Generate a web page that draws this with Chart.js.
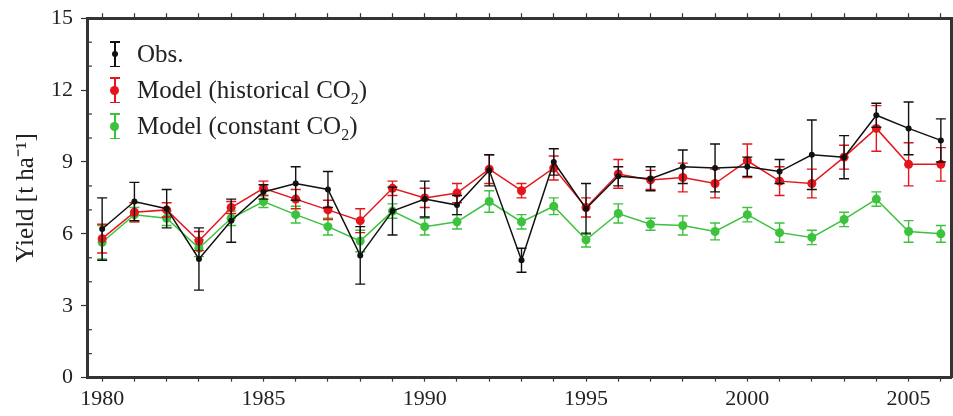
<!DOCTYPE html>
<html>
<head>
<meta charset="utf-8">
<script src="https://cdn.jsdelivr.net/npm/chart.js@4.4.1/dist/chart.umd.min.js"></script>
<style>
  html, body { margin: 0; padding: 0; background: #fff; }
  #wrap { position: relative; width: 953px; height: 416px; overflow: hidden; }
  #chart { position: absolute; left: 0; top: -3px; }
  #legend {
    position: absolute; left: 104px; top: 36px;
    font-family: "Liberation Serif", "Times New Roman", serif;
    font-size: 25px; color: #222; line-height: 36px;
  }
  .row { display: flex; align-items: center; height: 36px; }
  .icon { position: relative; width: 22px; height: 26px; margin-right: 11px; }
  .icon .bar { position: absolute; left: 10px; top: 0; width: 1.5px; height: 26px; }
  .icon .cap { position: absolute; left: 6px; width: 10px; height: 1.5px; }
  .icon .cap.t { top: 0; }
  .icon .cap.b { bottom: 0; }
  .icon .dot { position: absolute; border-radius: 50%; }
  sub { font-size: 16px; vertical-align: -6px; line-height: 0; }
</style>
</head>
<body>
<div id="wrap">
  <canvas id="chart" width="956" height="419"></canvas>
  <div id="legend"></div>
</div>
<script>
// data
const years = [1980, 1981, 1982, 1983, 1984, 1985, 1986, 1987, 1988, 1989, 1990, 1991, 1992, 1993,
  1994, 1995, 1996, 1997, 1998, 1999, 2000, 2001, 2002, 2003, 2004, 2005, 2006];

const obsYield = [6.2, 7.35, 7.05, 4.95, 6.55, 7.75, 8.1, 7.85, 5.1, 6.95, 7.45, 7.2, 8.65, 4.9,
  9.0, 7.05, 8.4, 8.3, 8.8, 8.75, 8.8, 8.6, 9.3, 9.2, 10.95, 10.4, 9.9];
const obsErr = [1.3, 0.8, 0.8, 1.3, 0.9, 0.3, 0.7, 0.75, 1.2, 1.0, 0.75, 0.4, 0.65, 0.5,
  0.55, 1.05, 0.4, 0.5, 0.7, 1.0, 0.4, 0.5, 1.45, 0.9, 0.5, 1.1, 0.9];

const histYield = [5.8, 6.9, 7.0, 5.7, 7.1, 7.9, 7.45, 7.0, 6.55, 7.9, 7.5, 7.7, 8.7, 7.8,
  8.75, 7.1, 8.5, 8.25, 8.35, 8.1, 9.05, 8.2, 8.1, 9.2, 10.4, 8.9, 8.9];
const histErr = [0.6, 0.4, 0.3, 0.4, 0.25, 0.3, 0.4, 0.4, 0.5, 0.3, 0.4, 0.4, 0.6, 0.3,
  0.5, 0.4, 0.6, 0.4, 0.6, 0.6, 0.7, 0.6, 0.6, 0.5, 0.95, 0.9, 0.7];

const constYield = [5.65, 6.8, 6.65, 5.4, 6.65, 7.35, 6.8, 6.3, 5.7, 6.95, 6.3, 6.5, 7.35, 6.5,
  7.15, 5.75, 6.85, 6.4, 6.35, 6.1, 6.8, 6.05, 5.85, 6.6, 7.45, 6.1, 6.0];
const constErr = [0.7, 0.3, 0.3, 0.35, 0.3, 0.25, 0.35, 0.35, 0.45, 0.3, 0.35, 0.3, 0.45, 0.3,
  0.35, 0.3, 0.4, 0.25, 0.4, 0.35, 0.3, 0.4, 0.3, 0.3, 0.3, 0.45, 0.35];

const yTicks = [0, 3, 6, 9, 12, 15];
const xTicks = [1980, 1985, 1990, 1995, 2000, 2005];

const OBS_COLOR = '#111111';
const HIST_COLOR = '#e4161c';
const CONST_COLOR = '#3cc23c';
const AXIS_COLOR = '#333';
const FONT = '"Liberation Serif", "Times New Roman", serif';

const series = [
  { label: 'Obs.', html: 'Obs.', values: obsYield, err: obsErr, color: OBS_COLOR, radius: 3 },
  { label: 'Model (historical CO2)', html: 'Model (historical CO<sub>2</sub>)', values: histYield, err: histErr, color: HIST_COLOR, radius: 4.5 },
  { label: 'Model (constant CO2)', html: 'Model (constant CO<sub>2</sub>)', values: constYield, err: constErr, color: CONST_COLOR, radius: 4.5 }
];

// error bars drawn under each dataset's line and markers
const errorBars = {
  id: 'errorBars',
  beforeDatasetDraw(chart, args) {
    const s = series[args.index];
    const { ctx, scales: { x, y } } = chart;
    ctx.save();
    ctx.strokeStyle = s.color;
    ctx.lineWidth = 1.4;
    s.values.forEach((v, i) => {
      const px = x.getPixelForValue(years[i]);
      const top = y.getPixelForValue(v + s.err[i]);
      const bot = y.getPixelForValue(v - s.err[i]);
      ctx.beginPath();
      ctx.moveTo(px, top); ctx.lineTo(px, bot);
      ctx.moveTo(px - 5, top); ctx.lineTo(px + 5, top);
      ctx.moveTo(px - 5, bot); ctx.lineTo(px + 5, bot);
      ctx.stroke();
    });
    ctx.restore();
  }
};

// minor y ticks point inward from the left frame
const minorTicks = {
  id: 'minorTicks',
  afterDraw(chart) {
    const { ctx, chartArea, scales: { y } } = chart;
    ctx.save();
    ctx.strokeStyle = AXIS_COLOR;
    ctx.lineWidth = 1.2;
    for (let v = 0; v <= 15; v++) {
      if (yTicks.includes(v)) continue;
      const py = y.getPixelForValue(v);
      ctx.beginPath();
      ctx.moveTo(chartArea.left, py);
      ctx.lineTo(chartArea.left + 5, py);
      ctx.stroke();
    }
    ctx.restore();
  }
};

const axisBorder = { display: true, color: AXIS_COLOR, width: 3 };

new Chart(document.getElementById('chart'), {
  type: 'line',
  data: {
    datasets: series.map(s => ({
      label: s.label,
      data: s.values.map((v, i) => ({ x: years[i], y: v })),
      borderColor: s.color,
      backgroundColor: s.color,
      borderWidth: 1.5,
      pointRadius: s.radius,
      pointBorderWidth: 0,
      tension: 0
    }))
  },
  options: {
    responsive: false,
    animation: false,
    layout: { padding: { left: 9, right: 0, top: 0, bottom: 0 } },
    plugins: { legend: { display: false }, tooltip: { enabled: false } },
    scales: {
      x: {
        type: 'linear', position: 'bottom', min: 1979.53, max: 2006.33,
        afterBuildTicks: ax => { ax.ticks = years.map(v => ({ value: v })); },
        ticks: {
          autoSkip: false, maxRotation: 0, color: '#222', padding: 4,
          font: { family: FONT, size: 22 },
          callback: v => xTicks.includes(v) ? String(v) : ''
        },
        grid: { drawOnChartArea: false, color: AXIS_COLOR, tickLength: 4, tickWidth: 1.2 },
        border: axisBorder
      },
      xTop: {
        type: 'linear', position: 'top', min: 1979.53, max: 2006.33,
        afterBuildTicks: ax => { ax.ticks = years.map(v => ({ value: v })); },
        ticks: { display: false },
        grid: { drawOnChartArea: false, color: AXIS_COLOR, tickLength: 5, tickWidth: 1.2 },
        border: axisBorder
      },
      y: {
        min: 0, max: 15,
        ticks: {
          stepSize: 1, autoSkip: false, color: '#222', padding: 8,
          font: { family: FONT, size: 22 },
          callback: v => yTicks.includes(v) ? String(v) : ''
        },
        title: { display: true, text: 'Yield [t ha⁻¹]', color: '#222', font: { family: FONT, size: 25 }, padding: 2 },
        grid: {
          drawOnChartArea: false, tickLength: 6, tickWidth: 1.2,
          color: ctx => yTicks.includes(ctx.tick.value) ? AXIS_COLOR : 'rgba(0,0,0,0)'
        },
        border: axisBorder
      },
      yRight: {
        position: 'right', min: 0, max: 15,
        ticks: { display: false, stepSize: 1 },
        grid: { drawOnChartArea: false, drawTicks: false },
        border: axisBorder
      }
    }
  },
  plugins: [errorBars, minorTicks]
});

document.getElementById('legend').innerHTML = series.map(s => `
  <div class="row">
    <div class="icon">
      <div class="bar" style="background:${s.color}"></div>
      <div class="cap t" style="background:${s.color}"></div>
      <div class="cap b" style="background:${s.color}"></div>
      <div class="dot" style="background:${s.color};width:${s.radius * 2}px;height:${s.radius * 2}px;left:${10.75 - s.radius}px;top:${13 - s.radius}px"></div>
    </div>
    <span>${s.html}</span>
  </div>`).join('');
</script>
</body>
</html>
